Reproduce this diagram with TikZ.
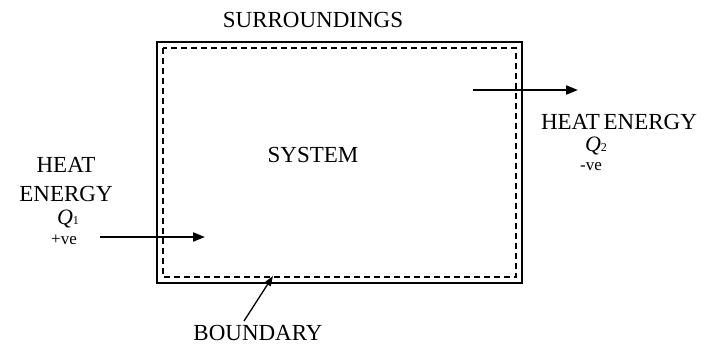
\documentclass[tikz,border=0pt]{standalone}
\usepackage{fontspec}
\setmainfont{Liberation Serif}
\usetikzlibrary{arrows.meta}
\begin{document}
\begin{tikzpicture}[x=1pt,y=-1pt,
  lbl/.style={inner sep=0pt,font=\fontsize{23}{25}\selectfont},
  qq/.style={inner sep=0pt,font=\fontsize{22}{24}\selectfont\itshape},
  sml/.style={inner sep=0pt,font=\fontsize{17}{19}\selectfont},
  flow/.style={line width=2pt,-{Triangle[length=12pt,width=9pt]}},
  ptr/.style={line width=1.3pt,-{Triangle[length=10pt,width=7pt]}}]
\useasboundingbox (0,0) rectangle (704,348);
\draw[line width=2pt] (157,42) rectangle (522,283);
\draw[line width=1.5pt,dash pattern=on 6pt off 4pt] (163,48) rectangle (516,277);
\node[lbl] (sur) at (313,20) {SURROUNDINGS};
\node[lbl] (sys) at (313,155) {SYSTEM};
\node[lbl] (h1) at (66,165) {HEAT};
\node[lbl] (e1) at (66,194) {ENERGY};
\node[qq] (q1) at (68,219) {Q\textup{\fontsize{12}{12}\selectfont 1}};
\node[sml] (v1) at (64,240) {+ve};
\coordinate (a1s) at (100,237);
\coordinate (a1e) at (205,237);
\draw[flow] (a1s) -- (a1e);
\coordinate (a2s) at (473,90);
\coordinate (a2e) at (578,90);
\draw[flow] (a2s) -- (a2e);
\node[lbl] (h2) at (619,122) {HEAT\,ENERGY};
\node[qq] (q2) at (596,146) {Q\textup{\fontsize{12}{12}\selectfont 2}};
\node[sml] (v2) at (591,167) {-ve};
\node[lbl] (bd) at (258,333) {BOUNDARY};
\coordinate (bt) at (273,276);
\draw[ptr] (244,321) -- (bt);
\end{tikzpicture}
\end{document}
